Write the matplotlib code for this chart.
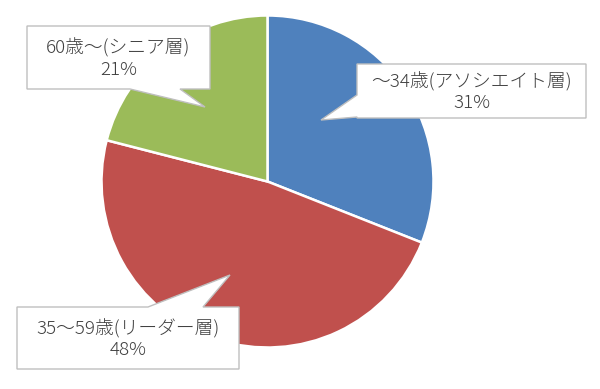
import matplotlib
matplotlib.use('Agg')
import matplotlib.pyplot as plt
from matplotlib.patches import Polygon

plt.rcParams['font.family'] = ['Noto Sans CJK JP', 'DejaVu Sans']

# data
groups = ['～34歳(アソシエイト層)', '35～59歳(リーダー層)', '60歳～(シニア層)']
shares = [31, 48, 21]
colors = ['#4F81BD', '#C0504D', '#9BBB59']

W, H = 600, 389

# callout layout in pixel coords (y from top): box, pointer base edge, base span, tip
callouts = [
    dict(box=(357, 64, 586, 118), edge='left', span=(95, 117), tip=(321, 120)),
    dict(box=(17, 307, 239, 369), edge='top', span=(148, 203), tip=(230, 275)),
    dict(box=(27, 26, 210, 89), edge='bottom', span=(130, 180), tip=(205, 107)),
]


def callout_points(box, edge, span, tip):
    x0, y0, x1, y1 = box
    a, b = span
    if edge == 'left':
        pts = [(x0, y0), (x1, y0), (x1, y1), (x0, y1), (x0, b), tip, (x0, a)]
    elif edge == 'top':
        pts = [(x0, y0), (a, y0), tip, (b, y0), (x1, y0), (x1, y1), (x0, y1)]
    else:
        pts = [(x0, y0), (x1, y0), (x1, y1), (b, y1), tip, (a, y1), (x0, y1)]
    return [(x, H - y) for x, y in pts]


fig = plt.figure(figsize=(6, 3.89), dpi=100)
ax = fig.add_axes([0, 0, 1, 1])

ax.pie(shares, colors=colors, startangle=90, counterclock=False,
       center=(267.5, H - 181.5), radius=166, frame=True,
       wedgeprops=dict(edgecolor='white', linewidth=1.8))
ax.set_xlim(0, W)
ax.set_ylim(0, H)
ax.set_aspect('equal')
ax.axis('off')

for name, pct, c in zip(groups, shares, callouts):
    poly = Polygon(callout_points(**c), closed=True, facecolor='white',
                   edgecolor='#BFBFBF', linewidth=1, zorder=5)
    ax.add_patch(poly)
    x0, y0, x1, y1 = c['box']
    ax.text((x0 + x1) / 2, H - (y0 + y1) / 2 - 1, f'{name}\n{pct}%',
            ha='center', va='center', fontsize=13.5, color='#404040',
            fontweight='light', linespacing=1.2, zorder=6)

plt.savefig('out.png', dpi=100)
plt.close()
